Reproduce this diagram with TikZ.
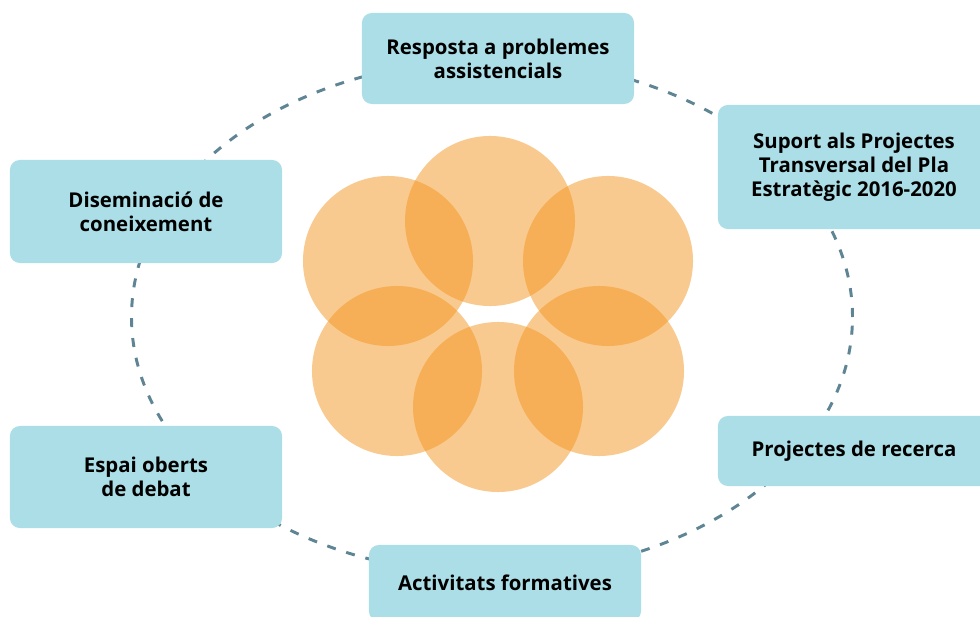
\documentclass[tikz,border=0pt]{standalone}
\usepackage{fontspec}
\setmainfont{Open Sans}
\usepackage{xcolor}
\usepackage{tikz}
\definecolor{boxblue}{HTML}{ABDEE6}
\definecolor{ringgray}{HTML}{5F8595}
\definecolor{petal}{HTML}{F3951F}

\begin{document}
\begin{tikzpicture}[x=0.025cm, y=-0.025cm,
topic/.style={rectangle, rounded corners=7pt, fill=boxblue, align=center, minimum width=6.8cm, font=\fontsize{14.5}{17}\selectfont\bfseries},
ring/.style={draw=ringgray, line width=2.1pt, dash pattern=on 6.4pt off 7.8pt},
petalfill/.style={fill=petal, fill opacity=0.5}]
\useasboundingbox (0,0) rectangle (980,617);
\clip (0,0) rectangle (980,617);

\coordinate (hub) at (492,317);
\draw[ring] (hub) ellipse [x radius=9.01cm, y radius=6.43cm];

% flower
\foreach \cx/\cy in {490/221, 388/261, 608/261, 397/371, 599/371, 498/407}
  \fill[petalfill] (\cx,\cy) circle [radius=2.125cm];

% boxes round the ring
\node[topic, minimum height=2.275cm] (resposta) at (498,58.5) {Resposta a problemes\\assistencials};
\node[topic, minimum height=3.1cm] (suport) at (854,167) {Suport als Projectes\\Transversal del Pla\\Estratègic 2016-2020};
\node[topic, minimum height=1.75cm] (recerca) at (854,451) {Projectes de recerca};
\node[topic, minimum height=1.9cm] (formatives) at (505,583) {Activitats formatives};
\node[topic, minimum height=2.55cm] (debat) at (146,477) {Espai oberts\\de debat};
\node[topic, minimum height=2.575cm] (disseminacio) at (146,211.5) {Diseminació de\\coneixement};
\end{tikzpicture}
\end{document}
